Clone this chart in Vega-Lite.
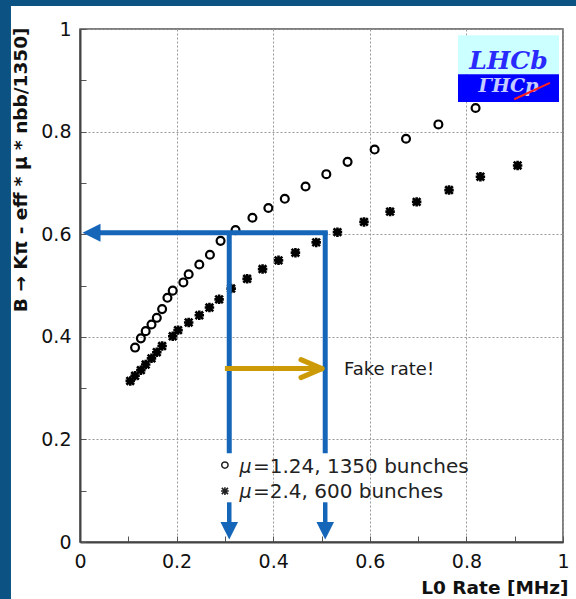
{
  "$schema": "https://vega.github.io/schema/vega-lite/v6.json",
  "width": 483,
  "height": 513,
  "autosize": {"type": "none"},
  "padding": {"left": 80, "top": 29, "right": 13, "bottom": 57},
  "background": "white",
  "config": {
    "font": "DejaVu Sans",
    "view": {"stroke": "#555", "strokeWidth": 1.5},
    "axis": {
      "labelFont": "DejaVu Sans", "labelFontSize": 19, "labelColor": "#111",
      "titleFont": "DejaVu Sans", "titleFontWeight": "bold", "titleFontSize": 18.5, "titleColor": "#111",
      "domainColor": "#444", "domainWidth": 2,
      "tickColor": "#555", "tickWidth": 1, "tickSize": -6,
      "gridColor": "#999", "gridDash": [2, 2], "gridWidth": 1,
      "labelOverlap": false, "labelFlush": false
    }
  },
  "datasets": {
    "points": [
      {"series": "μ=1.24, 1350 bunches", "rate": 0.114, "eff": 0.379},
      {"series": "μ=1.24, 1350 bunches", "rate": 0.126, "eff": 0.397},
      {"series": "μ=1.24, 1350 bunches", "rate": 0.136, "eff": 0.411},
      {"series": "μ=1.24, 1350 bunches", "rate": 0.148, "eff": 0.424},
      {"series": "μ=1.24, 1350 bunches", "rate": 0.159, "eff": 0.437},
      {"series": "μ=1.24, 1350 bunches", "rate": 0.170, "eff": 0.454},
      {"series": "μ=1.24, 1350 bunches", "rate": 0.181, "eff": 0.476},
      {"series": "μ=1.24, 1350 bunches", "rate": 0.192, "eff": 0.490},
      {"series": "μ=1.24, 1350 bunches", "rate": 0.214, "eff": 0.506},
      {"series": "μ=1.24, 1350 bunches", "rate": 0.225, "eff": 0.522},
      {"series": "μ=1.24, 1350 bunches", "rate": 0.247, "eff": 0.541},
      {"series": "μ=1.24, 1350 bunches", "rate": 0.269, "eff": 0.560},
      {"series": "μ=1.24, 1350 bunches", "rate": 0.291, "eff": 0.587},
      {"series": "μ=1.24, 1350 bunches", "rate": 0.322, "eff": 0.608},
      {"series": "μ=1.24, 1350 bunches", "rate": 0.357, "eff": 0.632},
      {"series": "μ=1.24, 1350 bunches", "rate": 0.390, "eff": 0.651},
      {"series": "μ=1.24, 1350 bunches", "rate": 0.424, "eff": 0.669},
      {"series": "μ=1.24, 1350 bunches", "rate": 0.467, "eff": 0.693},
      {"series": "μ=1.24, 1350 bunches", "rate": 0.510, "eff": 0.717},
      {"series": "μ=1.24, 1350 bunches", "rate": 0.554, "eff": 0.741},
      {"series": "μ=1.24, 1350 bunches", "rate": 0.610, "eff": 0.765},
      {"series": "μ=1.24, 1350 bunches", "rate": 0.675, "eff": 0.786},
      {"series": "μ=1.24, 1350 bunches", "rate": 0.742, "eff": 0.814},
      {"series": "μ=1.24, 1350 bunches", "rate": 0.819, "eff": 0.846},
      {"series": "μ=2.4, 600 bunches", "rate": 0.104, "eff": 0.314},
      {"series": "μ=2.4, 600 bunches", "rate": 0.114, "eff": 0.324},
      {"series": "μ=2.4, 600 bunches", "rate": 0.126, "eff": 0.335},
      {"series": "μ=2.4, 600 bunches", "rate": 0.136, "eff": 0.346},
      {"series": "μ=2.4, 600 bunches", "rate": 0.148, "eff": 0.358},
      {"series": "μ=2.4, 600 bunches", "rate": 0.159, "eff": 0.370},
      {"series": "μ=2.4, 600 bunches", "rate": 0.170, "eff": 0.382},
      {"series": "μ=2.4, 600 bunches", "rate": 0.192, "eff": 0.401},
      {"series": "μ=2.4, 600 bunches", "rate": 0.203, "eff": 0.413},
      {"series": "μ=2.4, 600 bunches", "rate": 0.225, "eff": 0.428},
      {"series": "μ=2.4, 600 bunches", "rate": 0.247, "eff": 0.442},
      {"series": "μ=2.4, 600 bunches", "rate": 0.268, "eff": 0.457},
      {"series": "μ=2.4, 600 bunches", "rate": 0.288, "eff": 0.473},
      {"series": "μ=2.4, 600 bunches", "rate": 0.313, "eff": 0.494},
      {"series": "μ=2.4, 600 bunches", "rate": 0.346, "eff": 0.513},
      {"series": "μ=2.4, 600 bunches", "rate": 0.378, "eff": 0.532},
      {"series": "μ=2.4, 600 bunches", "rate": 0.411, "eff": 0.549},
      {"series": "μ=2.4, 600 bunches", "rate": 0.446, "eff": 0.564},
      {"series": "μ=2.4, 600 bunches", "rate": 0.489, "eff": 0.584},
      {"series": "μ=2.4, 600 bunches", "rate": 0.533, "eff": 0.604},
      {"series": "μ=2.4, 600 bunches", "rate": 0.588, "eff": 0.624},
      {"series": "μ=2.4, 600 bunches", "rate": 0.642, "eff": 0.644},
      {"series": "μ=2.4, 600 bunches", "rate": 0.697, "eff": 0.663},
      {"series": "μ=2.4, 600 bunches", "rate": 0.764, "eff": 0.686},
      {"series": "μ=2.4, 600 bunches", "rate": 0.829, "eff": 0.712},
      {"series": "μ=2.4, 600 bunches", "rate": 0.906, "eff": 0.734}
    ],
    "one": [{}]
  },
  "layer": [
    {
      "data": {"name": "points"},
      "transform": [{"filter": "datum.series == 'μ=1.24, 1350 bunches'"}],
      "mark": {"type": "point", "shape": "circle", "filled": false, "stroke": "#000", "strokeWidth": 2.2, "size": 62, "opacity": 1},
      "encoding": {
        "x": {
          "field": "rate", "type": "quantitative",
          "scale": {"domain": [0, 1], "nice": false, "zero": false},
          "axis": {
            "title": "L0 Rate [MHz]",
            "values": [0, 0.05, 0.1, 0.15, 0.2, 0.25, 0.3, 0.35, 0.4, 0.45, 0.5, 0.55, 0.6, 0.65, 0.7, 0.75, 0.8, 0.85, 0.9, 0.95, 1],
            "labelExpr": "round(datum.value*20) % 4 == 0 ? format(datum.value, '~g') : ''",
            "gridOpacity": {"condition": {"test": "round(datum.value*20) % 4 == 0", "value": 1}, "value": 0},
            "labelPadding": 16,
            "titleX": 488, "titleY": 51, "titleAlign": "right", "titleBaseline": "alphabetic", "titleAnchor": "end"
          }
        },
        "y": {
          "field": "eff", "type": "quantitative",
          "scale": {"domain": [0, 1], "nice": false, "zero": false},
          "axis": {
            "title": "B → Kπ - eff * μ * nbb/1350]",
            "values": [0, 0.05, 0.1, 0.15, 0.2, 0.25, 0.3, 0.35, 0.4, 0.45, 0.5, 0.55, 0.6, 0.65, 0.7, 0.75, 0.8, 0.85, 0.9, 0.95, 1],
            "labelExpr": "round(datum.value*20) % 4 == 0 ? format(datum.value, '~g') : ''",
            "gridOpacity": {"condition": {"test": "round(datum.value*20) % 4 == 0", "value": 1}, "value": 0},
            "labelPadding": 15,
            "titleX": -54, "titleY": -2, "titleAlign": "right", "titleBaseline": "alphabetic", "titleAnchor": "end", "titleAngle": 270
          }
        }
      }
    },
    {
      "data": {"name": "points"},
      "transform": [{"filter": "datum.series == 'μ=2.4, 600 bunches'"}],
      "mark": {"type": "point", "shape": "M-1,0L1,0M0,-1L0,1M-0.8,-0.8L0.8,0.8M-0.8,0.8L0.8,-0.8", "filled": false, "stroke": "#000", "strokeWidth": 2.6, "size": 90, "opacity": 1},
      "encoding": {
        "x": {"field": "rate", "type": "quantitative"},
        "y": {"field": "eff", "type": "quantitative"}
      }
    },
    {
      "data": {"name": "one"},
      "mark": {"type": "rule", "stroke": "#1565b8", "strokeWidth": 5},
      "encoding": {"x": {"datum": 0.036}, "x2": {"datum": 0.5129}, "y": {"datum": 0.603}}
    },
    {
      "data": {"name": "one"},
      "mark": {"type": "rule", "stroke": "#1565b8", "strokeWidth": 5},
      "encoding": {"x": {"datum": 0.309}, "y": {"datum": 0.173}, "y2": {"datum": 0.605}}
    },
    {
      "data": {"name": "one"},
      "mark": {"type": "rule", "stroke": "#1565b8", "strokeWidth": 5},
      "encoding": {"x": {"datum": 0.5077}, "y": {"datum": 0.173}, "y2": {"datum": 0.605}}
    },
    {
      "data": {"name": "one"},
      "mark": {"type": "point", "shape": "M-1,0L1,-1L1,1Z", "filled": true, "fill": "#1565b8", "size": 324, "opacity": 1},
      "encoding": {"x": {"datum": 0.0238}, "y": {"datum": 0.603}}
    },
    {
      "data": {"name": "one"},
      "mark": {"type": "rule", "stroke": "#1565b8", "strokeWidth": 4.5},
      "encoding": {"x": {"datum": 0.309}, "y": {"datum": 0.0774}, "y2": {"datum": 0.036}}
    },
    {
      "data": {"name": "one"},
      "mark": {"type": "rule", "stroke": "#1565b8", "strokeWidth": 4.5},
      "encoding": {"x": {"datum": 0.5077}, "y": {"datum": 0.0774}, "y2": {"datum": 0.036}}
    },
    {
      "data": {"name": "one"},
      "mark": {"type": "point", "shape": "M-1,-1L1,-1L0,1Z", "filled": true, "fill": "#1565b8", "size": 310, "opacity": 1},
      "encoding": {"x": {"datum": 0.309}, "y": {"datum": 0.0218}}
    },
    {
      "data": {"name": "one"},
      "mark": {"type": "point", "shape": "M-1,-1L1,-1L0,1Z", "filled": true, "fill": "#1565b8", "size": 310, "opacity": 1},
      "encoding": {"x": {"datum": 0.5077}, "y": {"datum": 0.0218}}
    },
    {
      "data": {"name": "one"},
      "mark": {"type": "rule", "stroke": "#cc9a06", "strokeWidth": 5},
      "encoding": {"x": {"datum": 0.300}, "x2": {"datum": 0.500}, "y": {"datum": 0.338}}
    },
    {
      "data": {"name": "one"},
      "mark": {"type": "rule", "stroke": "#cc9a06", "strokeWidth": 5, "strokeCap": "round"},
      "encoding": {"x": {"datum": 0.4575}, "y": {"datum": 0.3555}, "x2": {"datum": 0.5010}, "y2": {"datum": 0.338}}
    },
    {
      "data": {"name": "one"},
      "mark": {"type": "rule", "stroke": "#cc9a06", "strokeWidth": 5, "strokeCap": "round"},
      "encoding": {"x": {"datum": 0.4575}, "y": {"datum": 0.3205}, "x2": {"datum": 0.5010}, "y2": {"datum": 0.338}}
    },
    {
      "data": {"name": "one"},
      "mark": {"type": "text", "text": "Fake rate!", "align": "left", "baseline": "middle", "font": "DejaVu Sans", "fontSize": 18, "fill": "#1a1a1a"},
      "encoding": {"x": {"datum": 0.5466}, "y": {"datum": 0.336}}
    },
    {
      "data": {"name": "one"},
      "mark": {"type": "point", "shape": "circle", "filled": false, "stroke": "#222", "strokeWidth": 1.5, "size": 40, "opacity": 1},
      "encoding": {"x": {"datum": 0.300}, "y": {"datum": 0.150}}
    },
    {
      "data": {"name": "one"},
      "mark": {"type": "point", "shape": "M-1,0L1,0M0,-1L0,1M-0.8,-0.8L0.8,0.8M-0.8,0.8L0.8,-0.8", "filled": false, "stroke": "#222", "strokeWidth": 1.6, "size": 60, "opacity": 1},
      "encoding": {"x": {"datum": 0.300}, "y": {"datum": 0.0994}}
    },
    {
      "data": {"name": "one"},
      "mark": {"type": "text", "text": "μ", "align": "left", "baseline": "middle", "font": "DejaVu Sans", "fontStyle": "italic", "fontSize": 19, "fill": "#222"},
      "encoding": {"x": {"datum": 0.330}, "y": {"datum": 0.147}}
    },
    {
      "data": {"name": "one"},
      "mark": {"type": "text", "text": "=1.24, 1350 bunches", "align": "left", "baseline": "middle", "font": "DejaVu Sans", "fontSize": 20, "fill": "#222"},
      "encoding": {"x": {"datum": 0.358}, "y": {"datum": 0.147}}
    },
    {
      "data": {"name": "one"},
      "mark": {"type": "text", "text": "μ", "align": "left", "baseline": "middle", "font": "DejaVu Sans", "fontStyle": "italic", "fontSize": 19, "fill": "#222"},
      "encoding": {"x": {"datum": 0.330}, "y": {"datum": 0.0965}}
    },
    {
      "data": {"name": "one"},
      "mark": {"type": "text", "text": "=2.4, 600 bunches", "align": "left", "baseline": "middle", "font": "DejaVu Sans", "fontSize": 20, "fill": "#222"},
      "encoding": {"x": {"datum": 0.358}, "y": {"datum": 0.0965}}
    },
    {
      "data": {"name": "one"},
      "mark": {"type": "rect", "fill": "#ccffff"},
      "encoding": {"x": {"datum": 0.7826}, "x2": {"datum": 0.9917}, "y": {"datum": 0.912}, "y2": {"datum": 0.988}}
    },
    {
      "data": {"name": "one"},
      "mark": {"type": "rect", "fill": "#0000ff"},
      "encoding": {"x": {"datum": 0.7826}, "x2": {"datum": 0.9917}, "y": {"datum": 0.8577}, "y2": {"datum": 0.912}}
    },
    {
      "data": {"name": "one"},
      "mark": {"type": "text", "text": "LHCb", "align": "center", "baseline": "bottom", "font": "DejaVu Serif", "fontStyle": "italic", "fontWeight": "bold", "fontSize": 25, "fill": "#2a2aff"},
      "encoding": {"x": {"datum": 0.887}, "y": {"datum": 0.912}}
    },
    {
      "data": {"name": "one"},
      "mark": {"type": "text", "text": "ΓHCp", "align": "center", "baseline": "top", "font": "DejaVu Serif", "fontStyle": "italic", "fontWeight": "bold", "fontSize": 19, "fill": "#e8f0ff", "opacity": 0.85, "dy": 3},
      "encoding": {"x": {"datum": 0.887}, "y": {"datum": 0.912}}
    },
    {
      "data": {"name": "one"},
      "mark": {"type": "rule", "stroke": "#ff2020", "strokeWidth": 2},
      "encoding": {"x": {"datum": 0.899}, "y": {"datum": 0.863}, "x2": {"datum": 0.973}, "y2": {"datum": 0.895}}
    },
    {
      "data": {"name": "one"},
      "mark": {"type": "rect", "fill": "#0c5384"},
      "encoding": {"x": {"datum": -0.25}, "x2": {"datum": -0.1429}, "y": {"datum": -0.2}, "y2": {"datum": 1.2}}
    },
    {
      "data": {"name": "one"},
      "mark": {"type": "rect", "fill": "#0c5384"},
      "encoding": {"x": {"datum": -0.25}, "x2": {"datum": 1.2}, "y": {"datum": 1.0448}, "y2": {"datum": 1.2}}
    }
  ]
}
